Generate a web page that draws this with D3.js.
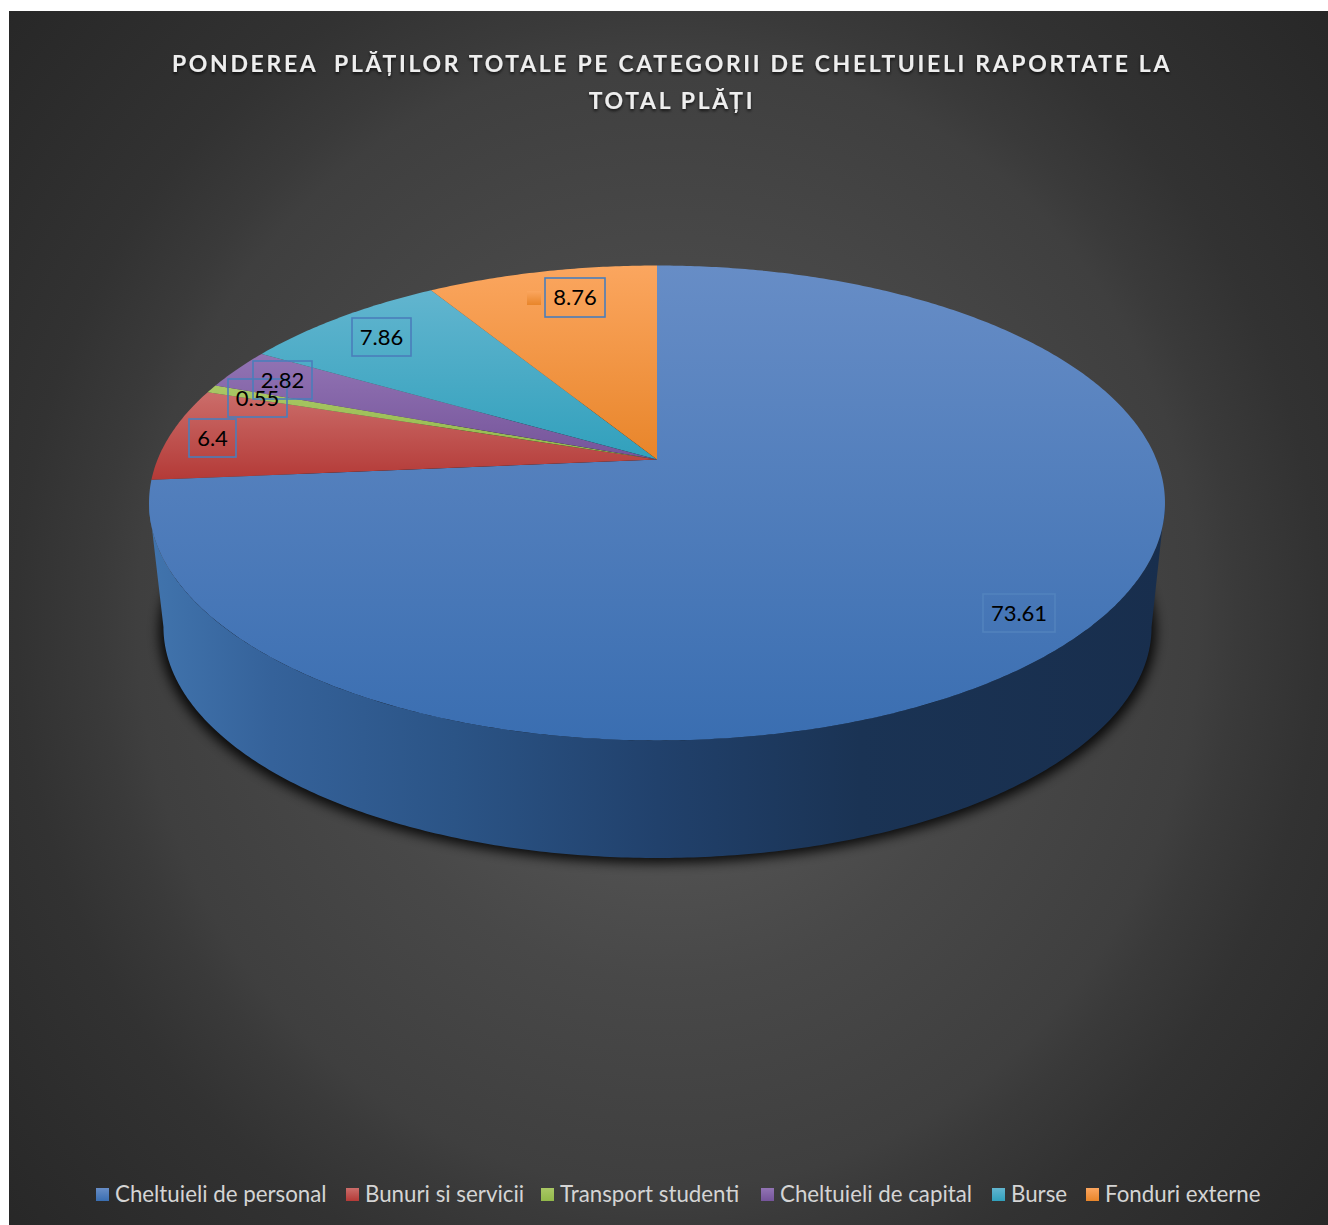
<!DOCTYPE html>
<html><head><meta charset="utf-8">
<script src="https://cdn.jsdelivr.net/npm/d3@7/dist/d3.min.js"></script>
<style>html,body{margin:0;padding:0;background:#fff;overflow:hidden}svg{display:block}</style>
</head><body><svg id="c" width="1328" height="1225"></svg>
<script>
const categories = ["Cheltuieli de personal","Bunuri si servicii","Transport studenti","Cheltuieli de capital","Burse","Fonduri externe"];
const values = [73.61,6.4,0.55,2.82,7.86,8.76];
const valueLabels = ["73.61","6.4","0.55","2.82","7.86","8.76"];
const titleLines = ["PONDEREA  PLĂȚILOR TOTALE PE CATEGORII DE CHELTUIELI RAPORTATE LA","TOTAL PLĂȚI"];

const gradTop = ["#678dc6","#cb6d6a","#a9c765","#9274b4","#62b5cf","#fba65f"];
const gradBot = ["#3a6eb1","#b43a37","#92b84a","#75549a","#31a0bc","#e8852a"];
const labelLayout = [
 {x:983,y:594,w:72,h:38,stroke:"#5283bd"},
 {x:189,y:419,w:47,h:38},
 {x:228,y:379,w:59,h:38},
 {x:253,y:361,w:59,h:38},
 {x:352,y:318,w:59,h:38},
 {x:545,y:278,w:60,h:39}
];
const W=1328,H=1225;
const FONT="Lato, 'Open Sans', sans-serif";
const svg=d3.select("#c");
const defs=svg.append("defs");

// background
const bg=defs.append("radialGradient").attr("id","bg").attr("gradientUnits","userSpaceOnUse")
 .attr("cx",0).attr("cy",0).attr("r",900)
 .attr("gradientTransform","translate(668 620) scale(1 1.07)");
[[0,"#5c5c5c"],[.25,"#505050"],[.375,"#484848"],[.59,"#3f3f3f"],[.632,"#3a3a3a"],[.724,"#323232"],[1,"#262626"]].forEach(s=>bg.append("stop").attr("offset",s[0]).attr("stop-color",s[1]));
svg.append("rect").attr("x",9).attr("y",11).attr("width",W-9).attr("height",H-11).attr("fill","url(#bg)");

// perspective disc
const k=0.183;
function disc(cx,cy,a,b){
 const sx=d3.scaleLinear().domain([-1,1]).range([cx-a,cx+a]);
 const sy=d3.scaleLinear().domain([-1,1]).range([cy+b,cy-b]);
 return t=>{const w=1+k*Math.cos(t);return [sx(Math.sin(t)/w),sy(Math.cos(t)/w)];};
}
const apex=[657,459.5];
const top_=disc(apex[0],apex[1],499.4,229.5);
const bot=disc(657.5,584.8,485.7,223.2);
const line=d3.line();
const arcPts=(f,a,b)=>{const n=Math.max(2,Math.ceil(Math.abs(b-a)/0.01));return d3.range(n+1).map(i=>f(a+(b-a)*i/n));};
const pie=d3.pie().sort(null).value(d=>d)(values);

// shadow
const blur=defs.append("filter").attr("id","sh").attr("x","-10%").attr("y","-10%").attr("width","120%").attr("height","120%");
blur.append("feGaussianBlur").attr("stdDeviation",6);
const bs=disc(657.5,589,490,224);
svg.append("path").attr("d",line(arcPts(bs,0,2*Math.PI))+"Z").attr("fill","#000").attr("opacity",.85).attr("filter","url(#sh)");

// wall
const wg=defs.append("linearGradient").attr("id","wall").attr("gradientUnits","userSpaceOnUse").attr("x1",150).attr("x2",1165).attr("y1",0).attr("y2",0);
[[0,"#4174ad"],[.12,"#35629a"],[.3,"#2b5486"],[.5,"#21416c"],[.7,"#1a3354"],[1,"#182e4d"]].forEach(s=>wg.append("stop").attr("offset",s[0]).attr("stop-color",s[1]));
const tR=Math.PI-Math.acos(k),tL=Math.PI+Math.acos(k);
svg.append("path").attr("d",line(arcPts(top_,tR,tL).concat(arcPts(bot,tL,tR)))+"Z").attr("fill","url(#wall)");

// slices
pie.forEach((p,i)=>{
 const boundary=arcPts(top_,p.startAngle,p.endAngle);
 const ys=boundary.map(d=>d[1]).concat(apex[1]);
 const g=defs.append("linearGradient").attr("id","s"+i).attr("gradientUnits","userSpaceOnUse")
  .attr("x1",0).attr("x2",0).attr("y1",d3.min(ys)).attr("y2",d3.max(ys));
 g.append("stop").attr("offset",0).attr("stop-color",gradTop[i]);
 g.append("stop").attr("offset",1).attr("stop-color",gradBot[i]);
 svg.append("path").attr("d",line([apex].concat(boundary))+"Z").attr("fill",`url(#s${i})`);
});

// labels
values.forEach((v,i)=>{
 const l=labelLayout[i];
 svg.append("rect").attr("x",l.x).attr("y",l.y).attr("width",l.w).attr("height",l.h).attr("fill","none")
  .attr("stroke",l.stroke||"#4a7ebb").attr("stroke-width",1.6);
});
const keyGrad=defs.append("linearGradient").attr("id","kOrange").attr("x1",0).attr("x2",0).attr("y1",0).attr("y2",1);
keyGrad.append("stop").attr("offset",0).attr("stop-color",gradTop[5]);
keyGrad.append("stop").attr("offset",1).attr("stop-color",gradBot[5]);
svg.append("rect").attr("x",527).attr("y",291).attr("width",14).attr("height",14).attr("fill","url(#kOrange)");
values.forEach((v,i)=>{
 const l=labelLayout[i];
 svg.append("text").attr("x",l.x+l.w/2).attr("y",l.y+l.h/2+7.5).attr("text-anchor","middle")
  .attr("font-family",FONT).attr("font-size",22).attr("fill","#000").text(valueLabels[i]);
});

// title
const tf=defs.append("filter").attr("id","ts").attr("x","-5%").attr("y","-30%").attr("width","110%").attr("height","170%");
tf.append("feDropShadow").attr("dx",0).attr("dy",2).attr("stdDeviation",1.5).attr("flood-color","#000").attr("flood-opacity",.7);
titleLines.forEach((t,i)=>{
 svg.append("text").attr("x",672).attr("y",72+i*37).attr("text-anchor","middle").style("white-space","pre")
  .attr("font-family",FONT).attr("font-weight",700).attr("font-size",23).attr("letter-spacing",2.65)
  .attr("fill","#eeeeee").attr("filter","url(#ts)").text(t);
});

// legend
const legX=[96,346,541,761,992,1086];
categories.forEach((c,i)=>{
 const id="lg"+i;
 const g=defs.append("linearGradient").attr("id",id).attr("x1",0).attr("x2",0).attr("y1",0).attr("y2",1);
 g.append("stop").attr("offset",0).attr("stop-color",gradTop[i]);
 g.append("stop").attr("offset",1).attr("stop-color",gradBot[i]);
 svg.append("rect").attr("x",legX[i]).attr("y",1188).attr("width",13).attr("height",13).attr("fill",`url(#${id})`);
 svg.append("text").attr("x",legX[i]+19).attr("y",1202).attr("font-family",FONT).attr("font-size",22.3).attr("fill","#d4d4d4").text(c);
});
</script></body></html>
